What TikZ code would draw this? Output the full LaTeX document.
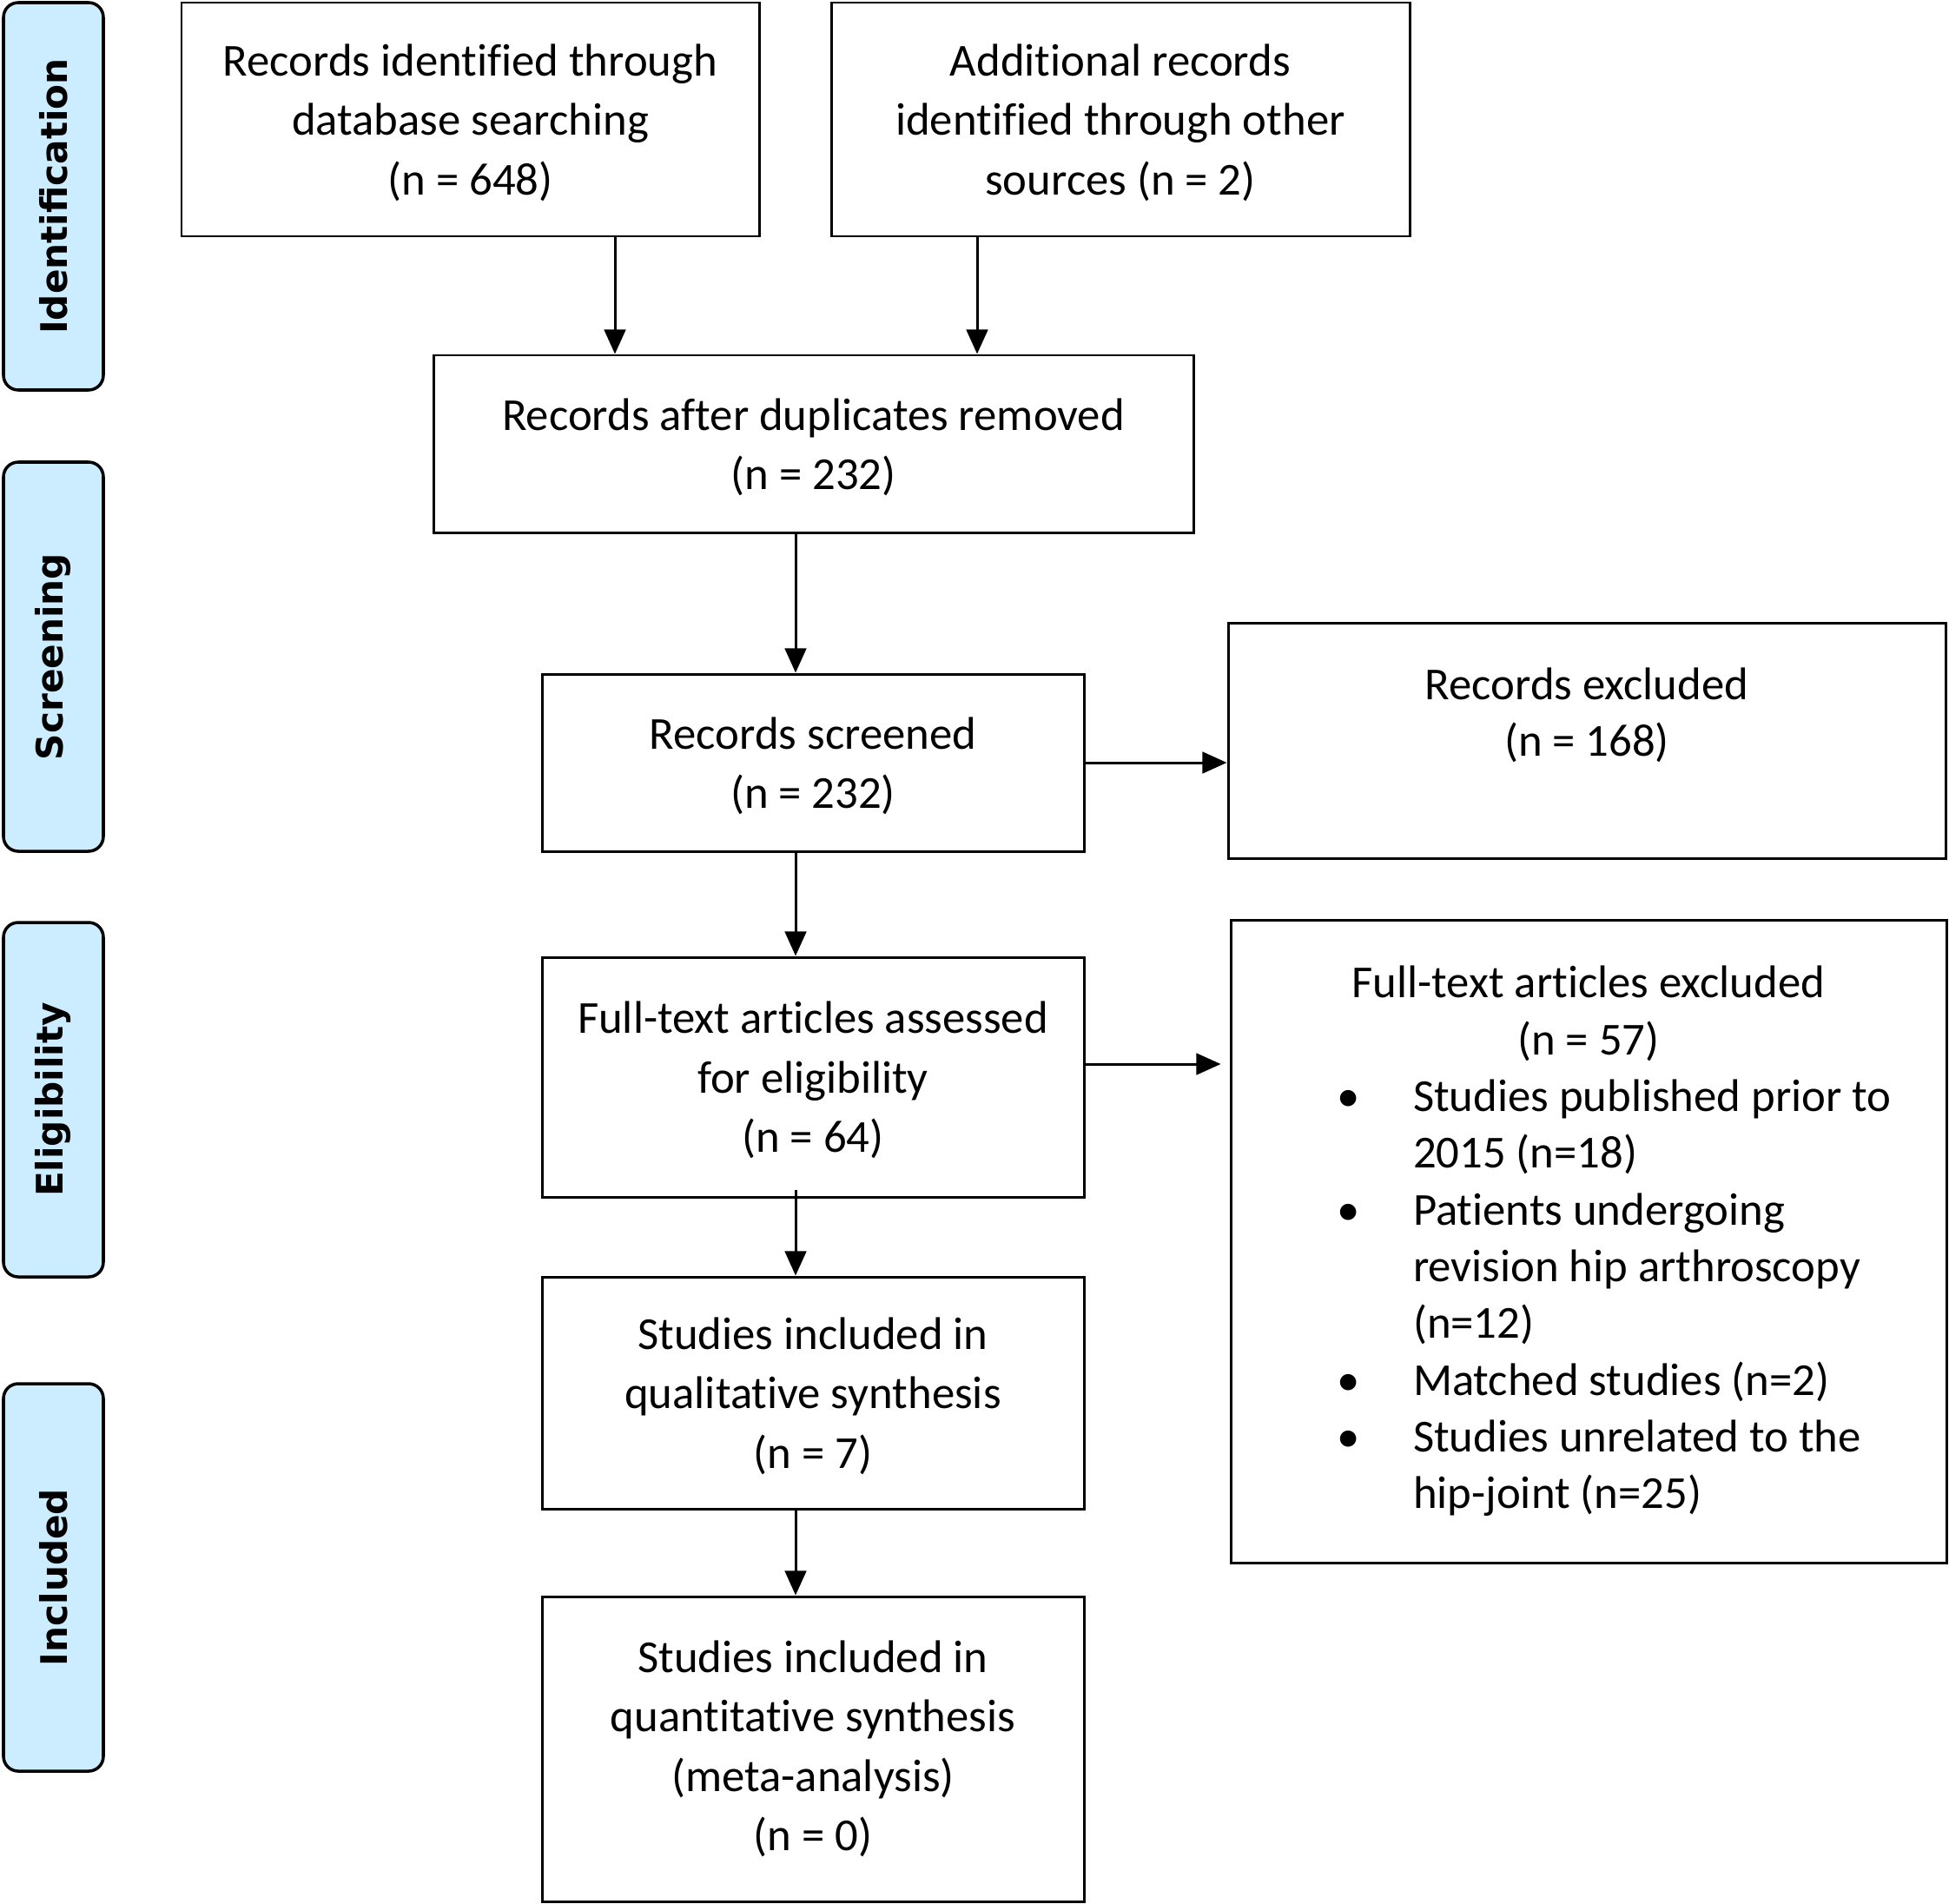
\documentclass[tikz,border=0pt]{standalone}
\usepackage{fontspec}
\setmainfont{Carlito}[Ligatures=NoCommon]
\newfontfamily\phasefont{DejaVu Sans}
\usepackage{tikz}
\usetikzlibrary{arrows.meta, positioning, calc}
\definecolor{phaseblue}{RGB}{204,236,255}

\begin{document}
\begin{tikzpicture}[
    box/.style={draw, line width=0.85pt, inner sep=0pt, align=center, text depth=0pt,
                font=\fontsize{15pt}{19.5pt}\selectfont},
    plain/.style={inner sep=0pt, align=center, font=\fontsize{15pt}{18.6pt}\selectfont},
    phase/.style={draw, line width=1pt, rounded corners=0.17cm, fill=phaseblue,
                  minimum height=1.15cm, rotate=90, inner sep=0pt,
                  font=\phasefont\bfseries\fontsize{12pt}{14pt}\selectfont},
    arrow/.style={-{Triangle[length=8pt,width=7pt]}, line width=0.85pt}
]
\useasboundingbox (0,0) rectangle (22.44,-21.91);

% phase labels on the left
\node[phase, minimum width=4.46cm] (idph)   at (0.615,-2.26)  {Identification};
\node[phase, minimum width=4.48cm] (scrph)  at (0.615,-7.56)  {Screening};
\node[phase, minimum width=4.08cm] (eligph) at (0.615,-12.66) {Eligibility};
\node[phase, minimum width=4.46cm] (inclph) at (0.615,-18.16) {Included};

% main boxes
\node[box, minimum width=6.65cm, minimum height=2.69cm] (rec) at (5.415,-1.375)
    {Records identified through\\database searching\\(n = 648)};
\node[box, minimum width=6.66cm, minimum height=2.69cm] (other) at (12.90,-1.375)
    {Additional records\\identified through other\\sources (n = 2)};
\node[box, minimum width=8.75cm, minimum height=2.04cm] (dup) at (9.365,-5.11)
    {Records after duplicates removed\\(n = 232)};
\node[box, minimum width=6.24cm, minimum height=2.04cm] (screen) at (9.36,-8.78)
    {Records screened\\(n = 232)};
\node[box, minimum width=8.26cm, minimum height=2.71cm] (excl1) at (18.27,-8.525) {};
\node[plain] (excl1txt) at ([yshift=-1.08cm]excl1.north) {Records excluded\\(n = 168)};
\node[box, minimum width=6.24cm, minimum height=2.76cm] (full) at (9.36,-12.40)
    {Full-text articles assessed\\for eligibility\\(n = 64)};
\node[box, text width=8.24cm, minimum height=7.40cm, align=flush left, text depth=,
      font=\fontsize{15pt}{18.6pt}\selectfont] (excl2) at (18.29,-14.29)
    {\makebox[\linewidth][c]{Full-text articles excluded}\\
     \makebox[\linewidth][c]{(n = 57)}\\
     \hspace*{1.22cm}\makebox[0.88cm][l]{\textbullet}Studies published prior to\\
     \hspace*{2.10cm}2015 (n=18)\\
     \hspace*{1.22cm}\makebox[0.88cm][l]{\textbullet}Patients undergoing\\
     \hspace*{2.10cm}revision hip arthroscopy\\
     \hspace*{2.10cm}(n=12)\\
     \hspace*{1.22cm}\makebox[0.88cm][l]{\textbullet}Matched studies (n=2)\\
     \hspace*{1.22cm}\makebox[0.88cm][l]{\textbullet}Studies unrelated to the\\
     \hspace*{2.10cm}hip-joint (n=25)};
\node[box, minimum width=6.24cm, minimum height=2.67cm] (qual) at (9.36,-16.035)
    {Studies included in\\qualitative synthesis\\(n = 7)};
\node[box, minimum width=6.24cm, minimum height=3.51cm, text depth=] (quant) at (9.36,-20.135)
    {Studies included in\\quantitative synthesis\\(meta-analysis)\\(n = 0)};

% connectors
\coordinate (a1) at ([xshift=1.665cm]rec.south);
\coordinate (a2) at ([xshift=-1.65cm]other.south);
\coordinate (a3) at ([xshift=-0.205cm]dup.south);
\coordinate (a4) at ([xshift=-0.2cm]screen.south);
\coordinate (a5) at ([yshift=0.15cm]full.east);
\coordinate (a6) at ([xshift=-0.2cm,yshift=0.1cm]full.south);
\coordinate (a7) at ([xshift=-0.2cm]qual.south);
\draw[arrow] (a1) -- (a1 |- dup.north);
\draw[arrow] (a2) -- (a2 |- dup.north);
\draw[arrow] (a3) -- (a3 |- screen.north);
\draw[arrow] (screen.east) -- (screen.east -| excl1.west);
\draw[arrow] (a4) -- (a4 |- full.north);
\draw[arrow] (a5) -- ($(a5 -| excl2.west)+(-0.1,0)$);
\draw[arrow] (a6) -- (a6 |- qual.north);
\draw[arrow] (a7) -- (a7 |- quant.north);
\end{tikzpicture}
\end{document}
